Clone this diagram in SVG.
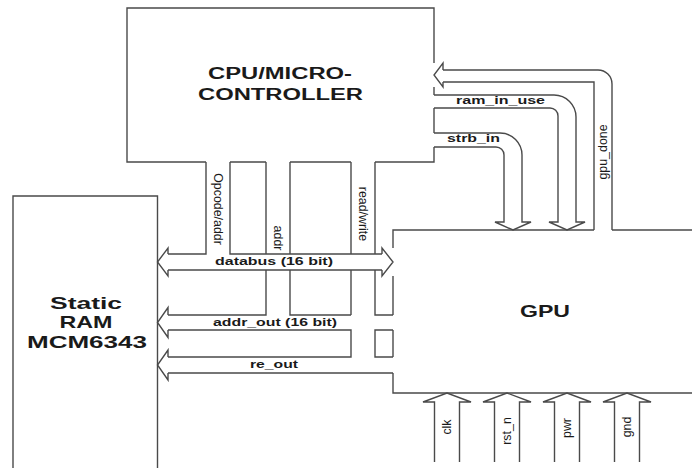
<svg xmlns="http://www.w3.org/2000/svg" width="692" height="468" viewBox="0 0 692 468">
<style>
.ln{fill:none;stroke:#4a4a4a;stroke-width:1.4;stroke-linejoin:miter}
.bt{font-family:"Liberation Sans",Arial,sans-serif;font-weight:bold;fill:#1a1a1a;text-anchor:middle}
.vt{font-family:"Liberation Sans",Arial,sans-serif;font-size:12.4px;fill:#1a1a1a;text-anchor:middle}
</style>
<rect width="692" height="468" fill="#ffffff"/>
<g id="cpu">
<path class="ln" d="M206,162 L127,162 L127,8 L434,8 L434,63 M434,87 L434,95 M434,108 L434,133 M434,147 L434,162 L375,162 M351,162 L290,162 M266,162 L230,162"/>
<text class="bt" font-size="16" x="280" y="79" textLength="144" lengthAdjust="spacingAndGlyphs">CPU/MICRO-</text>
<text class="bt" font-size="16" x="280.5" y="100" textLength="165" lengthAdjust="spacingAndGlyphs">CONTROLLER</text>
</g>
<g id="ram">
<path class="ln" d="M13,470 L13,196 L157.5,196 L157.5,470"/>
<text class="bt" font-size="17" x="86" y="309" textLength="72" lengthAdjust="spacingAndGlyphs">Static</text>
<text class="bt" font-size="17" x="86" y="328" textLength="53" lengthAdjust="spacingAndGlyphs">RAM</text>
<text class="bt" font-size="17" x="87" y="348" textLength="120" lengthAdjust="spacingAndGlyphs">MCM6343</text>
</g>
<g id="gpu">
<path class="ln" d="M393,248 L393,230 L594,230 M612,230 L692,230 M393,276 L393,315 M393,330 L393,357 M393,373 L393,393 L692,393"/>
<text class="bt" font-size="17" x="545" y="317" textLength="50" lengthAdjust="spacingAndGlyphs">GPU</text>
</g>
<g id="connectors">
<path class="ln" d="M168,254 L206,254 L206,162 M230,162 L230,254 L382,254 M168,270 L382,270 M168,254 L168,248 L157.5,262 L168,276 L168,270 M382,254 L382,248 L393,262 L382,276 L382,270"/>
<path class="ln" d="M266,162 L266,254 M290,162 L290,254 M266,270 L266,315 L168,315 M290,270 L290,315 L351,315 M168,315 L168,307.5 L157.5,322.5 L168,337.5 L168,330"/>
<path class="ln" d="M351,162 L351,254 M375,162 L375,254 M351,270 L351,315 M375,270 L375,315 L393,315 M168,330 L351,330 L351,357 L168,357 M393,330 L375,330 L375,357 L393,357 M168,373 L393,373 M168,357 L168,350 L157.5,365 L168,380 L168,373"/>
<path class="ln" d="M443,70 L598,70 A14,14 0 0 1 612,84 L612,230 M443,82 L594,82 L594,230 M443,70 L443,63 L434,75 L443,87 L443,82"/>
<path class="ln" d="M434,95 L554,95 A22,22 0 0 1 576,117 L576,222 L585,222 L567,230 L549,222 L558,222 L558,116 A8,8 0 0 0 550,108 L434,108"/>
<path class="ln" d="M434,133 L500,133 A22,22 0 0 1 522,155 L522,222 L531,222 L513,230 L495,222 L504,222 L504,155 A8,8 0 0 0 496,147 L434,147"/>
<path class="ln" d="M434.5,462 L434.5,402 L423,402 L447,393 L471,402 L459.5,402 L459.5,462 M494.5,462 L494.5,402 L483,402 L507,393 L531,402 L519.5,402 L519.5,462 M554.5,462 L554.5,402 L543,402 L567,393 L591,402 L579.5,402 L579.5,462 M614.5,462 L614.5,402 L603,402 L627,393 L651,402 L639.5,402 L639.5,462"/>
<text class="bt" font-size="11" x="274" y="265" textLength="118" lengthAdjust="spacingAndGlyphs">databus (16 bit)</text>
<text class="bt" font-size="11" x="275" y="326" textLength="124" lengthAdjust="spacingAndGlyphs">addr_out (16 bit)</text>
<text class="bt" font-size="11" x="274" y="368" textLength="48" lengthAdjust="spacingAndGlyphs">re_out</text>
<text class="bt" font-size="11" x="500.5" y="104" textLength="89" lengthAdjust="spacingAndGlyphs">ram_in_use</text>
<text class="bt" font-size="11" x="473.5" y="142" textLength="53" lengthAdjust="spacingAndGlyphs">strb_in</text>
<text class="vt" transform="translate(214,209) rotate(90)">Opcode/addr</text>
<text class="vt" transform="translate(274,238) rotate(90)">addr</text>
<text class="vt" transform="translate(359,214) rotate(90)">read/write</text>
<text class="vt" transform="translate(607,152) rotate(-90)">gpu_done</text>
<text class="vt" transform="translate(451,427) rotate(-90)">clk</text>
<text class="vt" transform="translate(511,431) rotate(-90)">rst_n</text>
<text class="vt" transform="translate(571,428) rotate(-90)">pwr</text>
<text class="vt" transform="translate(631,427) rotate(-90)">gnd</text>
</g>
</svg>
